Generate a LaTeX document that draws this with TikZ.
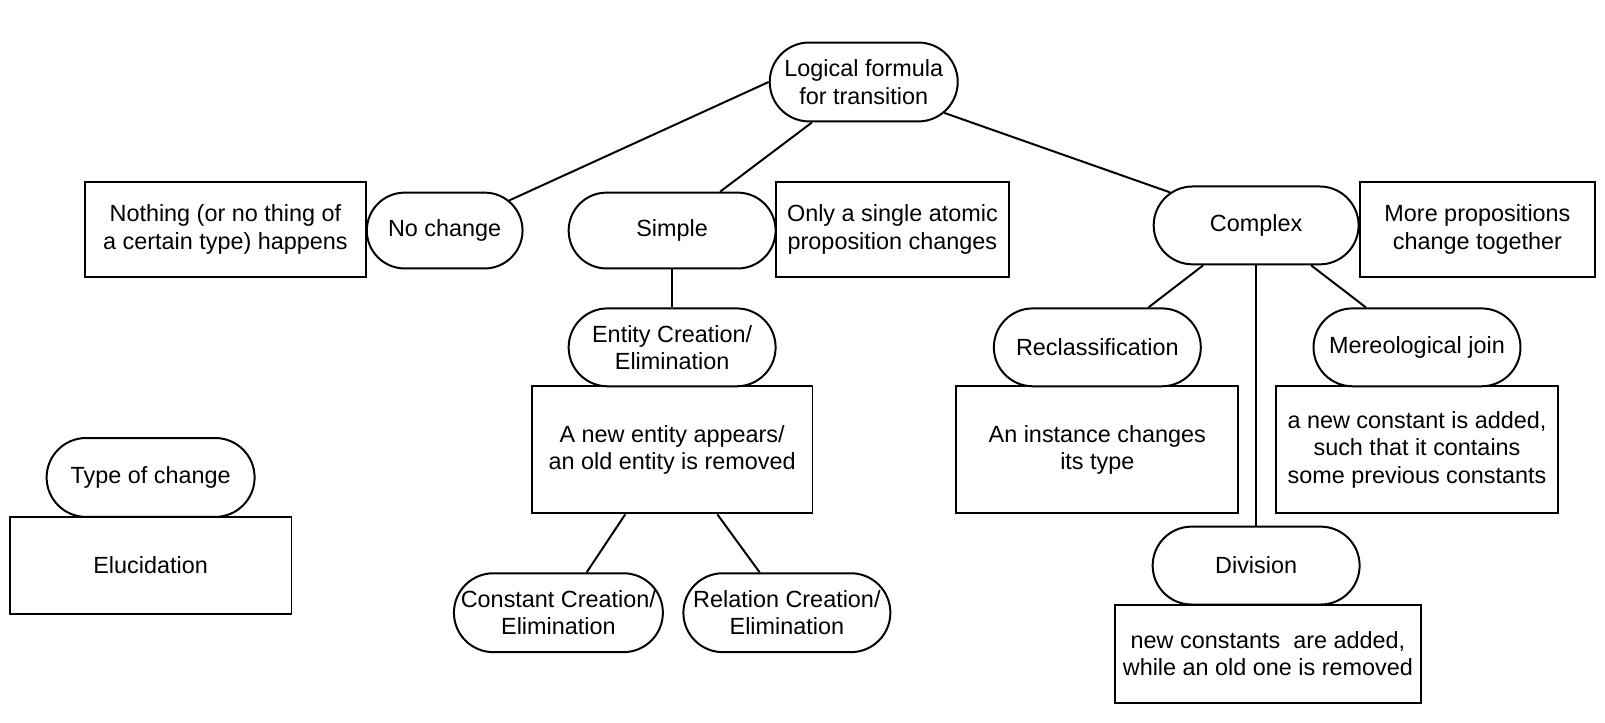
\documentclass[tikz,border=0pt]{standalone}
\usepackage{fontspec}
\setmainfont{Liberation Sans}
\usetikzlibrary{shapes.misc}

\begin{document}
\begin{tikzpicture}[
  pill/.style={draw, line width=1.1pt, fill=white, rounded rectangle, align=center, inner sep=0pt,
               minimum width=4.04cm, minimum height=1.52cm, font=\fontsize{13}{15.2}\selectfont},
  note/.style={draw, line width=1.1pt, rectangle, align=center, inner sep=0pt,
               minimum width=5.5cm, minimum height=1.86cm, font=\fontsize{13}{15.2}\selectfont},
  link/.style={line width=1.1pt}
]
%\draw[step=1cm,gray,very thin] (0,-14.11) grid (31.33,0); %background grid
\useasboundingbox (0,0) rectangle (31.33,-14.11);

% explanations
\node[note] (nothing)  at (4.40,-4.48)  {Nothing (or no thing of\\a certain type) happens};
\node[note, minimum width=4.56cm] (single) at (17.42,-4.48) {Only a single atomic\\proposition changes};
\node[note, minimum width=4.60cm] (more)   at (28.84,-4.48) {More propositions\\change together};
\node[note, minimum width=5.48cm, minimum height=2.48cm] (appears)  at (13.12,-8.78) {A new entity appears/\\an old entity is removed};
\node[note, minimum height=2.48cm] (instance) at (21.42,-8.78) {An instance changes\\its type};
\node[note, minimum height=2.48cm] (contains) at (27.66,-8.78) {a new constant is added,\\such that it contains\\some previous constants};
\node[note, minimum width=5.97cm, minimum height=1.92cm] (removed) at (24.75,-12.76) {new constants~ are added,\\while an old one is removed};
\node[note, minimum height=1.90cm] (elucid) at (2.94,-11.04) {Elucidation};

% types of change
\node[pill, minimum width=3.67cm, minimum height=1.54cm] (logic) at (16.86,-1.60) {Logical formula\\for transition};
\node[pill, minimum width=3.04cm, minimum height=1.48cm] (nochange) at (8.68,-4.50) {No change};
\node[pill, minimum height=1.48cm] (simple)   at (13.12,-4.50) {Simple};
\node[pill, minimum width=4.0cm] (complex)    at (24.52,-4.40) {Complex};
\node[pill] (entity)   at (13.12,-6.78)  {Entity Creation/\\Elimination};
\node[pill, minimum width=4.0cm, minimum height=1.54cm] (constant) at (10.90,-11.96) {Constant Creation/\\Elimination};
\node[pill, minimum height=1.54cm] (relation) at (15.36,-11.96) {Relation Creation/\\Elimination};
\node[pill] (reclass)  at (21.42,-6.78)  {Reclassification};
\node[pill] (mereo)    at (27.66,-6.78)  {Mereological join};
\node[pill] (division) at (24.52,-11.04) {Division};
\node[pill, minimum width=4.06cm, minimum height=1.54cm] (typechange) at (2.94,-9.32) {Type of change};

\draw[link] (logic.west) -- (nochange.25);
\draw[link] (logic.218) -- (simple.39);
\draw[link] (logic.-21) -- (complex.159);
\draw[link] (simple.south) -- (entity.north);
\draw[link] (appears.234.6) -- (constant.55);
\draw[link] (appears.305.4) -- (relation.124);
\draw[link] (complex.217) -- (reclass.38.5);
\draw[link] (complex.324) -- (mereo.142);
\draw[link] (complex.south) -- (division.north);

\end{tikzpicture}
\end{document}
